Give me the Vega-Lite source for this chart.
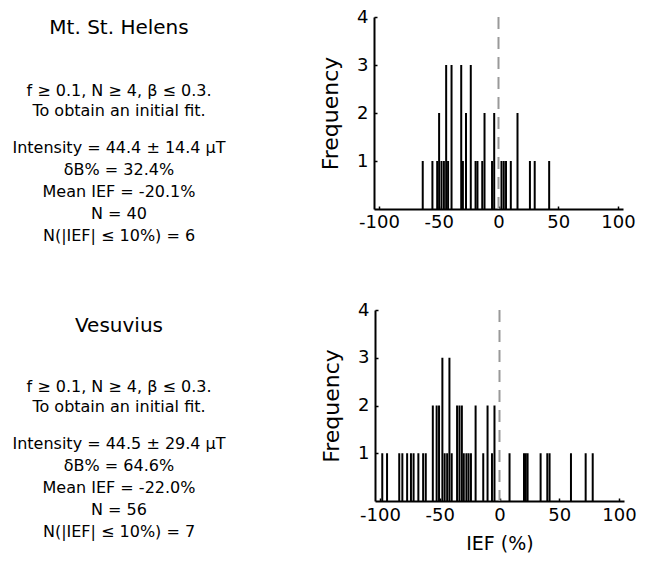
{
  "$schema": "https://vega.github.io/schema/vega-lite/v6.json",
  "padding": {"left": 0, "top": 8, "right": 0, "bottom": 0},
  "background": "white",
  "config": {"view": {"stroke": null}, "font": "DejaVu Sans", "text": {"color": "black"}, "axis": {"labelFontWeight": "normal", "titleFontWeight": "normal"}},
  "datasets": {
    "hist": [
      {"site": "Mt. St. Helens", "ief": -63.4, "count": 1},
      {"site": "Mt. St. Helens", "ief": -55.3, "count": 1},
      {"site": "Mt. St. Helens", "ief": -51.3, "count": 1},
      {"site": "Mt. St. Helens", "ief": -49.7, "count": 2},
      {"site": "Mt. St. Helens", "ief": -47.7, "count": 1},
      {"site": "Mt. St. Helens", "ief": -45.7, "count": 1},
      {"site": "Mt. St. Helens", "ief": -43.8, "count": 3},
      {"site": "Mt. St. Helens", "ief": -42.2, "count": 1},
      {"site": "Mt. St. Helens", "ief": -39.3, "count": 3},
      {"site": "Mt. St. Helens", "ief": -31.2, "count": 3},
      {"site": "Mt. St. Helens", "ief": -29.8, "count": 1},
      {"site": "Mt. St. Helens", "ief": -27.2, "count": 2},
      {"site": "Mt. St. Helens", "ief": -23.2, "count": 3},
      {"site": "Mt. St. Helens", "ief": -19.2, "count": 1},
      {"site": "Mt. St. Helens", "ief": -17.6, "count": 1},
      {"site": "Mt. St. Helens", "ief": -13.6, "count": 1},
      {"site": "Mt. St. Helens", "ief": -11.7, "count": 2},
      {"site": "Mt. St. Helens", "ief": -5.4, "count": 1},
      {"site": "Mt. St. Helens", "ief": -3.6, "count": 2},
      {"site": "Mt. St. Helens", "ief": 2.5, "count": 1},
      {"site": "Mt. St. Helens", "ief": 4.4, "count": 1},
      {"site": "Mt. St. Helens", "ief": 6.3, "count": 1},
      {"site": "Mt. St. Helens", "ief": 10.3, "count": 1},
      {"site": "Mt. St. Helens", "ief": 15.9, "count": 2},
      {"site": "Mt. St. Helens", "ief": 26.3, "count": 1},
      {"site": "Mt. St. Helens", "ief": 30.3, "count": 1},
      {"site": "Mt. St. Helens", "ief": 42.4, "count": 1},
      {"site": "Vesuvius", "ief": -98.1, "count": 1},
      {"site": "Vesuvius", "ief": -94.1, "count": 1},
      {"site": "Vesuvius", "ief": -83.9, "count": 1},
      {"site": "Vesuvius", "ief": -81.3, "count": 1},
      {"site": "Vesuvius", "ief": -77.3, "count": 1},
      {"site": "Vesuvius", "ief": -74.1, "count": 1},
      {"site": "Vesuvius", "ief": -71.9, "count": 1},
      {"site": "Vesuvius", "ief": -67.9, "count": 1},
      {"site": "Vesuvius", "ief": -63.9, "count": 1},
      {"site": "Vesuvius", "ief": -61.7, "count": 1},
      {"site": "Vesuvius", "ief": -55.8, "count": 2},
      {"site": "Vesuvius", "ief": -52.6, "count": 2},
      {"site": "Vesuvius", "ief": -50.6, "count": 2},
      {"site": "Vesuvius", "ief": -47.8, "count": 3},
      {"site": "Vesuvius", "ief": -45.9, "count": 1},
      {"site": "Vesuvius", "ief": -43.8, "count": 1},
      {"site": "Vesuvius", "ief": -41.9, "count": 3},
      {"site": "Vesuvius", "ief": -40.0, "count": 1},
      {"site": "Vesuvius", "ief": -35.5, "count": 2},
      {"site": "Vesuvius", "ief": -33.5, "count": 2},
      {"site": "Vesuvius", "ief": -31.5, "count": 2},
      {"site": "Vesuvius", "ief": -29.9, "count": 1},
      {"site": "Vesuvius", "ief": -27.7, "count": 1},
      {"site": "Vesuvius", "ief": -25.9, "count": 1},
      {"site": "Vesuvius", "ief": -23.9, "count": 1},
      {"site": "Vesuvius", "ief": -20.0, "count": 2},
      {"site": "Vesuvius", "ief": -13.6, "count": 1},
      {"site": "Vesuvius", "ief": -10.0, "count": 2},
      {"site": "Vesuvius", "ief": -6.3, "count": 1},
      {"site": "Vesuvius", "ief": -4.2, "count": 2},
      {"site": "Vesuvius", "ief": 8.4, "count": 1},
      {"site": "Vesuvius", "ief": 20.5, "count": 1},
      {"site": "Vesuvius", "ief": 22.0, "count": 1},
      {"site": "Vesuvius", "ief": 23.5, "count": 1},
      {"site": "Vesuvius", "ief": 34.4, "count": 1},
      {"site": "Vesuvius", "ief": 40.0, "count": 1},
      {"site": "Vesuvius", "ief": 41.9, "count": 1},
      {"site": "Vesuvius", "ief": 59.8, "count": 1},
      {"site": "Vesuvius", "ief": 72.1, "count": 1},
      {"site": "Vesuvius", "ief": 78.0, "count": 1}
    ],
    "refs": [
      {"site": "Mt. St. Helens", "ief": 0},
      {"site": "Vesuvius", "ief": 0}
    ],
    "notes": [
      {"site": "Mt. St. Helens", "block": "name", "text": "Mt. St. Helens"},
      {"site": "Mt. St. Helens", "block": "criteria", "text": "f ≥ 0.1, N ≥ 4, β ≤ 0.3.\nTo obtain an initial fit."},
      {"site": "Mt. St. Helens", "block": "stats", "text": "Intensity = 44.4 ± 14.4 μT\nδB% = 32.4%\nMean IEF = -20.1%\nN = 40\nN(|IEF| ≤ 10%) = 6"},
      {"site": "Vesuvius", "block": "name", "text": "Vesuvius"},
      {"site": "Vesuvius", "block": "criteria", "text": "f ≥ 0.1, N ≥ 4, β ≤ 0.3.\nTo obtain an initial fit."},
      {"site": "Vesuvius", "block": "stats", "text": "Intensity = 44.5 ± 29.4 μT\nδB% = 64.6%\nMean IEF = -22.0%\nN = 56\nN(|IEF| ≤ 10%) = 7"}
    ]
  },
  "spacing": 57,
  "vconcat": [
    {
      "bounds": "flush",
      "spacing": 136,
      "hconcat": [
        {
          "width": 238,
          "height": 192,
          "data": {"name": "notes"},
          "transform": [{"filter": "datum.site == 'Mt. St. Helens'"}],
          "encoding": {
            "x": {"field": "site", "type": "nominal", "axis": null, "scale": {"type": "point"}},
            "y": {"field": "block", "type": "nominal", "axis": null, "scale": {"type": "point", "domain": ["name", "criteria", "stats"], "range": [11, 131], "padding": 0}},
            "text": {"field": "text"}
          },
          "layer": [
            {"transform": [{"filter": "datum.block == 'name'"}], "mark": {"type": "text", "fontSize": 20, "baseline": "middle", "align": "center"}},
            {"transform": [{"filter": "datum.block == 'criteria'"}], "mark": {"type": "text", "fontSize": 16, "baseline": "middle", "align": "center", "lineBreak": "\n", "lineHeight": 20, "dy": 3}},
            {"transform": [{"filter": "datum.block == 'stats'"}], "mark": {"type": "text", "fontSize": 16, "baseline": "middle", "align": "center", "lineBreak": "\n", "lineHeight": 22}}
          ]
        },
        {
          "width": 249,
          "height": 192,
          "layer": [
            {
              "data": {"name": "hist"},
              "transform": [{"filter": "datum.site == 'Mt. St. Helens'"}],
              "mark": {"type": "bar", "size": 2, "color": "black"},
              "encoding": {
                "x": {"field": "ief", "type": "quantitative", "scale": {"domain": [-100, 100], "nice": false},
                  "axis": {"values": [-100, -75, -50, -25, 0, 25, 50, 75, 100], "labelExpr": "datum.value % 50 == 0 ? '' + datum.value : ''", "title": null, "grid": false, "domainColor": "black", "domainWidth": 2, "tickColor": "black", "tickWidth": 1.5, "tickSize": -3, "labelFontSize": 18, "labelColor": "black", "labelPadding": 7, "labelOverlap": false, "labelFlush": false}},
                "y": {"field": "count", "type": "quantitative", "scale": {"domain": [0, 4], "nice": false},
                  "axis": {"values": [1, 2, 3, 4], "title": "Frequency", "grid": false, "domainColor": "black", "domainWidth": 2, "tickColor": "black", "tickWidth": 1.5, "tickSize": -3, "labelFontSize": 18, "labelColor": "black", "labelPadding": 9, "titleFontSize": 22, "titleColor": "black", "titlePadding": 14, "labelFlush": false}}
              }
            },
            {
              "data": {"name": "refs"},
              "transform": [{"filter": "datum.site == 'Mt. St. Helens'"}],
              "mark": {"type": "rule", "color": "#999999", "strokeWidth": 2, "strokeDash": [12, 8]},
              "encoding": {"x": {"field": "ief", "type": "quantitative"}}
            }
          ]
        }
      ]
    },
    {
      "bounds": "flush",
      "spacing": 137,
      "hconcat": [
        {
          "width": 238,
          "height": 191,
          "data": {"name": "notes"},
          "transform": [{"filter": "datum.site == 'Vesuvius'"}],
          "encoding": {
            "x": {"field": "site", "type": "nominal", "axis": null, "scale": {"type": "point"}},
            "y": {"field": "block", "type": "nominal", "axis": null, "scale": {"type": "point", "domain": ["name", "criteria", "stats"], "range": [16, 134], "padding": 0}},
            "text": {"field": "text"}
          },
          "layer": [
            {"transform": [{"filter": "datum.block == 'name'"}], "mark": {"type": "text", "fontSize": 20, "baseline": "middle", "align": "center"}},
            {"transform": [{"filter": "datum.block == 'criteria'"}], "mark": {"type": "text", "fontSize": 16, "baseline": "middle", "align": "center", "lineBreak": "\n", "lineHeight": 20, "dy": 2}},
            {"transform": [{"filter": "datum.block == 'stats'"}], "mark": {"type": "text", "fontSize": 16, "baseline": "middle", "align": "center", "lineBreak": "\n", "lineHeight": 22}}
          ]
        },
        {
          "width": 249,
          "height": 191,
          "layer": [
            {
              "data": {"name": "hist"},
              "transform": [{"filter": "datum.site == 'Vesuvius'"}],
              "mark": {"type": "bar", "size": 2, "color": "black"},
              "encoding": {
                "x": {"field": "ief", "type": "quantitative", "scale": {"domain": [-100, 100], "nice": false},
                  "axis": {"values": [-100, -75, -50, -25, 0, 25, 50, 75, 100], "labelExpr": "datum.value % 50 == 0 ? '' + datum.value : ''", "title": "IEF (%)", "grid": false, "domainColor": "black", "domainWidth": 2, "tickColor": "black", "tickWidth": 1.5, "tickSize": -3, "labelFontSize": 18, "labelColor": "black", "labelPadding": 8, "labelOverlap": false, "labelFlush": false, "titleFontSize": 19, "titleColor": "black", "titlePadding": 10}},
                "y": {"field": "count", "type": "quantitative", "scale": {"domain": [0, 4], "nice": false},
                  "axis": {"values": [1, 2, 3, 4], "title": "Frequency", "grid": false, "domainColor": "black", "domainWidth": 2, "tickColor": "black", "tickWidth": 1.5, "tickSize": -3, "labelFontSize": 18, "labelColor": "black", "labelPadding": 9, "titleFontSize": 22, "titleColor": "black", "titlePadding": 14, "labelFlush": false}}
              }
            },
            {
              "data": {"name": "refs"},
              "transform": [{"filter": "datum.site == 'Vesuvius'"}],
              "mark": {"type": "rule", "color": "#999999", "strokeWidth": 2, "strokeDash": [12, 8]},
              "encoding": {"x": {"field": "ief", "type": "quantitative"}}
            }
          ]
        }
      ]
    }
  ]
}
